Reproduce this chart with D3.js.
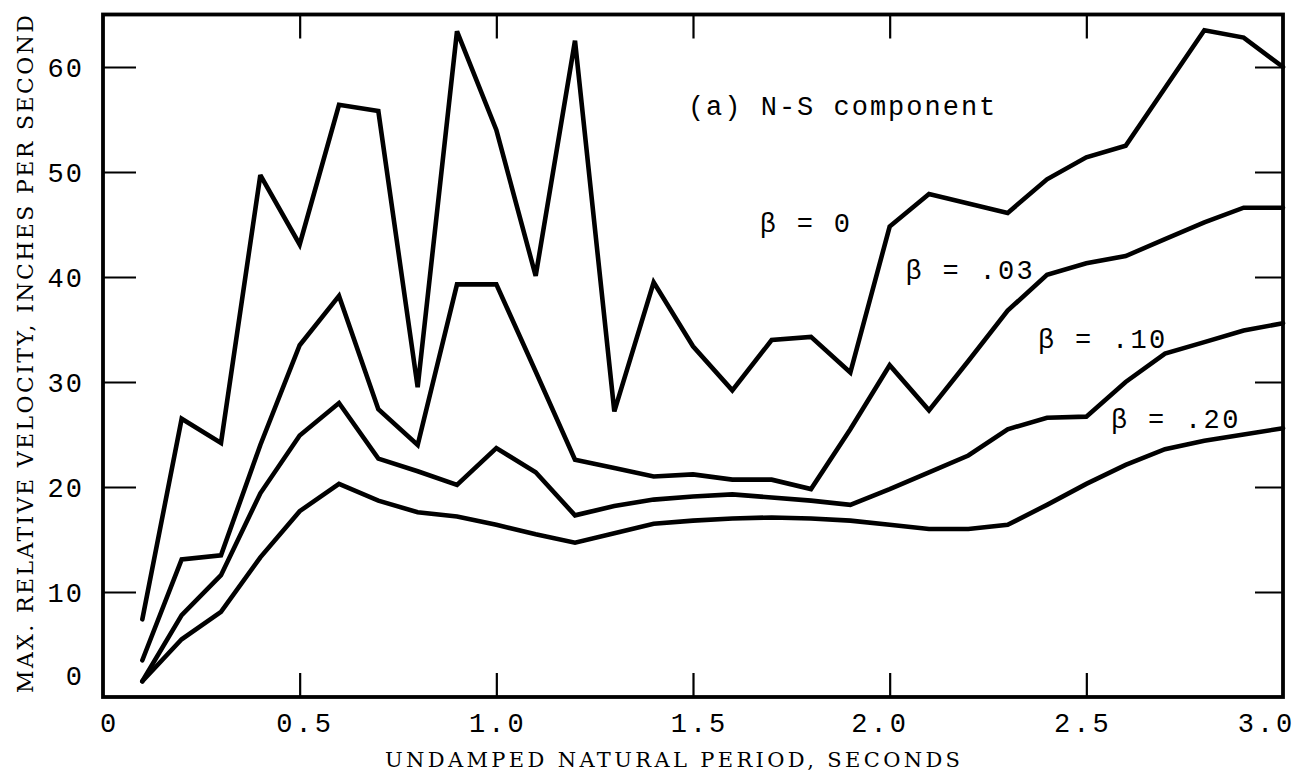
<!DOCTYPE html>
<html>
<head>
<meta charset="utf-8">
<script src="https://cdn.jsdelivr.net/npm/d3@7"></script>
<style>
  html, body { margin: 0; padding: 0; background: #fff; }
  svg { display: block; }
  text { white-space: pre; }
</style>
</head>
<body>
<svg id="chart" width="1307" height="783"></svg>
<script>
// ---------------- DATA ----------------
const periods = [0.1,0.2,0.3,0.4,0.5,0.6,0.7,0.8,0.9,1.0,
                 1.1,1.2,1.3,1.4,1.5,1.6,1.7,1.8,1.9,2.0,
                 2.1,2.2,2.3,2.4,2.5,2.6,2.7,2.8,2.9,3.0];

const beta0   = [7.4,26.5,24.2,49.7,43.1,56.4,55.8,29.5,63.4,54.0,
                 40.1,62.5,27.2,39.5,33.4,29.2,34.0,34.3,30.9,44.8,
                 47.9,47.0,46.1,49.3,51.4,52.5,58.0,63.5,62.8,60.0];
const beta03  = [3.5,13.1,13.5,24.0,33.5,38.2,27.4,24.0,39.3,39.3,
                 31.0,22.6,21.8,21.0,21.2,20.7,20.7,19.8,25.5,31.6,
                 27.3,32.0,36.8,40.2,41.3,42.0,43.6,45.2,46.6,46.6];
const beta10  = [1.5,7.8,11.6,19.4,24.9,28.0,22.7,21.5,20.2,23.7,
                 21.4,17.3,18.2,18.8,19.1,19.3,19.0,18.7,18.3,19.8,
                 21.4,23.0,25.5,26.6,26.7,30.0,32.7,33.8,34.9,35.6];
const beta20  = [1.5,5.5,8.1,13.3,17.7,20.3,18.7,17.6,17.2,16.4,
                 15.5,14.7,15.6,16.5,16.8,17.0,17.1,17.0,16.8,16.4,
                 16.0,16.0,16.4,18.3,20.3,22.1,23.6,24.4,25.0,25.6];

const seriesNames  = ["β = 0", "β = .03", "β = .10", "β = .20"];
const xTickValues  = [0, 0.5, 1.0, 1.5, 2.0, 2.5, 3.0];
const xTickLabels  = ["0", "0.5", "1.0", "1.5", "2.0", "2.5", "3.0"];
const xTickMarks   = [0.5, 1.0, 1.5, 2.0, 2.5];
const yTickValues  = [0, 10, 20, 30, 40, 50, 60];
const yTickLabels  = ["0", "10", "20", "30", "40", "50", "60"];
const yTickMarks   = [10, 20, 30, 40, 50, 60];
const xTitle = "UNDAMPED NATURAL PERIOD, SECONDS";
const yTitle = "MAX. RELATIVE VELOCITY, INCHES PER SECOND";
const panelTitle = "(a) N-S component";

// ---------------- LAYOUT ----------------
const svg = d3.select("#chart");
const padL = 103, padR = 1283, padT = 14.5, padB = 697;
const x = d3.scaleLinear().domain([0, 3]).range([padL, padR]);
const y = d3.scaleLinear().domain([0, 65]).range([padB, padT]);

const monoFont = "'Liberation Mono', monospace";
const serifFont = "'DejaVu Serif', 'Liberation Serif', serif";

// ---------------- CURVES ----------------
const series = [beta0, beta03, beta10, beta20];
const line = d3.line()
  .x((d, i) => x(periods[i]))
  .y(d => y(d));

svg.append("g").selectAll("path")
  .data(series)
  .join("path")
  .attr("d", d => line(d))
  .attr("fill", "none")
  .attr("stroke", "#000")
  .attr("stroke-width", 4.6)
  .attr("stroke-linejoin", "miter")
  .attr("stroke-miterlimit", 3)
  .attr("stroke-linecap", "round");

// ---------------- TICKS (inward) ----------------
function styleTicks(g, w) {
  g.select(".domain").remove();
  g.selectAll(".tick line").attr("stroke", "#000").attr("stroke-width", w);
  g.selectAll(".tick text").remove();
}
svg.append("g").attr("transform", `translate(0,${padB})`)
  .call(d3.axisTop(x).tickValues(xTickMarks).tickSize(24).tickFormat(""))
  .call(g => styleTicks(g, 2.2));
svg.append("g").attr("transform", `translate(0,${padT})`)
  .call(d3.axisBottom(x).tickValues(xTickMarks).tickSize(24).tickFormat(""))
  .call(g => styleTicks(g, 2.2));
svg.append("g").attr("transform", `translate(${padL},0)`)
  .call(d3.axisRight(y).tickValues(yTickMarks).tickSize(33).tickFormat(""))
  .call(g => styleTicks(g, 2));
svg.append("g").attr("transform", `translate(${padR},0)`)
  .call(d3.axisLeft(y).tickValues(yTickMarks).tickSize(28).tickFormat(""))
  .call(g => styleTicks(g, 2));

// ---------------- FRAME ----------------
svg.append("rect")
  .attr("x", x(0)).attr("y", y(65))
  .attr("width", x(3) - x(0)).attr("height", y(0) - y(65))
  .attr("fill", "none").attr("stroke", "#000").attr("stroke-width", 3.8);

// ---------------- TICK LABELS ----------------
const xLabelShift = [6, 5, 1, 6, -10, -4, -17];
const xLab = svg.append("g").attr("transform", `translate(0,${padB})`)
  .call(d3.axisBottom(x).tickValues(xTickValues)
        .tickFormat((d, i) => xTickLabels[i]).tickSize(0).tickPadding(16));
xLab.select(".domain").remove();
xLab.selectAll(".tick text")
  .attr("font-family", monoFont).attr("font-size", 27)
  .attr("letter-spacing", 3).attr("fill", "#000")
  .attr("dx", (d, i) => xLabelShift[i]);

const yLab = svg.append("g").attr("transform", `translate(${padL},0)`)
  .call(d3.axisLeft(y).tickValues(yTickValues)
        .tickFormat((d, i) => yTickLabels[i]).tickSize(0).tickPadding(19));
yLab.select(".domain").remove();
yLab.selectAll(".tick text")
  .attr("font-family", monoFont).attr("font-size", 27)
  .attr("letter-spacing", 2).attr("fill", "#000")
  .attr("dy", d => d === 0 ? "-0.45em" : "0.35em");

// ---------------- TITLES ----------------
svg.append("text")
  .attr("x", 385).attr("y", 767)
  .attr("font-family", serifFont).attr("font-size", 21)
  .attr("textLength", 575).attr("lengthAdjust", "spacing")
  .text(xTitle);

svg.append("text")
  .attr("transform", "translate(33,693) rotate(-90)")
  .attr("font-family", serifFont).attr("font-size", 22)
  .attr("textLength", 678).attr("lengthAdjust", "spacing")
  .text(yTitle);

// ---------------- ANNOTATIONS ----------------
svg.append("text")
  .attr("x", x(1.487)).attr("y", y(55.4))
  .attr("font-family", monoFont).attr("font-size", 27)
  .attr("letter-spacing", 2)
  .text(panelTitle);

const annPos = [[1.670, 44.3], [2.040, 39.8], [2.377, 33.2], [2.563, 25.6]];
svg.append("g").selectAll("text")
  .data(seriesNames)
  .join("text")
  .attr("x", (d, i) => x(annPos[i][0]))
  .attr("y", (d, i) => y(annPos[i][1]))
  .attr("font-family", monoFont).attr("font-size", 27)
  .attr("letter-spacing", 2.3)
  .text(d => d);
</script>
</body>
</html>
